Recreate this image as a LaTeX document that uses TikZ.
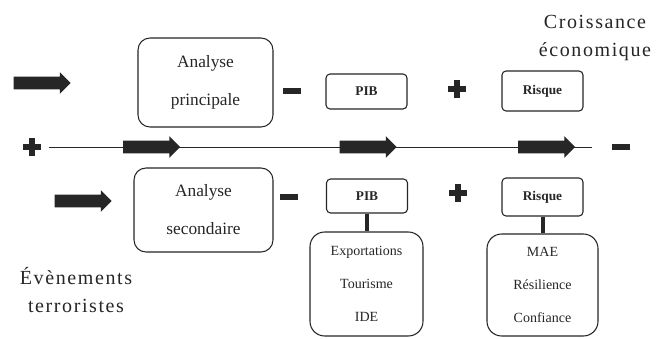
\documentclass[tikz,border=0pt]{standalone}
\usepackage{fontspec}
\setmainfont{Liberation Serif}
\newfontfamily\spacedfont[LetterSpace=8]{Liberation Serif}
\usetikzlibrary{shapes.arrows,positioning}

\begin{document}
\begin{tikzpicture}[
    x=0.75pt, y=-0.75pt,
    ink/.style={draw=black!85},
    box/.style={rectangle, draw=black!85, line width=0.8pt, align=center,
                inner sep=0pt, text=black!85},
    bigbox/.style={box, rounded corners=9pt, font=\fontsize{13}{28.5}\selectfont},
    smallbox/.style={box, rounded corners=3pt, minimum width=60.75pt,
                     font=\fontsize{10}{12}\selectfont\bfseries},
    listbox/.style={box, rounded corners=11pt, font=\fontsize{10.5}{24.75}\selectfont},
    fat/.style={single arrow, fill=black!85, inner xsep=0pt, inner ysep=4.5pt,
                minimum height=42.75pt, single arrow head extend=3.4pt},
    bar/.style={fill=black!85, inner sep=0pt, minimum width=14pt, minimum height=5pt},
    title/.style={align=center, text=black!85, font=\fontsize{15}{21}\spacedfont}
  ]
    \useasboundingbox[fill=white] (0,0) rectangle (657,339);

    % axis
    \coordinate (l0) at (49,147);
    \coordinate (l1) at (592,147);
    \draw[ink, line width=0.6pt] (l0) -- (l1);
    \foreach \n/\x in {a1/148.5, a2/365, a3/543.5}
      \node[fat] (\n) at (\x,147) {};
    \node[bar] (plusl) at (32,147) {};
    \node[bar, rotate=90] (plusl-v) at (plusl) {};
    \node[bar] (minusr) at (621,147) {};

    % upper row
    \node[fat] (arrtop) at (39,83) {};
    \node[bigbox, minimum width=101.25pt, minimum height=66.75pt] (princ) at (205.5,82.5)
      {Analyse\\principale};
    \node[bar] (minus1) at (292,91) {};
    \node[smallbox, minimum height=26.25pt] (pib1) at (366.5,91.5) {PIB};
    \node[bar] (plus1) at (457,89) {};
    \node[bar, rotate=90] (plus1-v) at (plus1) {};
    \node[smallbox, minimum height=30pt] (risk1) at (542.5,91) {Risque};
    \node[title] (grow) at (595,38) {Croissance\\économique};

    % lower row
    \node[fat] (arrlow) at (80,201) {};
    \node[bigbox, minimum width=104.25pt, minimum height=63pt] (sec) at (203.5,210)
      {Analyse\\secondaire};
    \node[bar] (minus2) at (289,197) {};
    \node[smallbox, minimum height=25.5pt] (pib2) at (367,196) {PIB};
    \node[bar] (plus2) at (458,193) {};
    \node[bar, rotate=90] (plus2-v) at (plus2) {};
    \node[smallbox, minimum height=28.5pt] (risk2) at (542.5,197) {Risque};
    \node[listbox, minimum width=84.75pt, minimum height=78pt] (pibsub) at (366.5,284)
      {Exportations\\Tourisme\\IDE};
    \node[listbox, minimum width=83.25pt, minimum height=76.5pt] (risksub) at (542.5,285)
      {MAE\\Résilience\\Confiance};
    \node[title] (terror) at (76,290) {Évènements\\terroristes};

    \foreach \a/\b in {pib2/pibsub, risk2/risksub}
      \draw[ink, line width=3pt] (\a.south) -- (\a.south |- \b.north);
  \end{tikzpicture}
\end{document}
